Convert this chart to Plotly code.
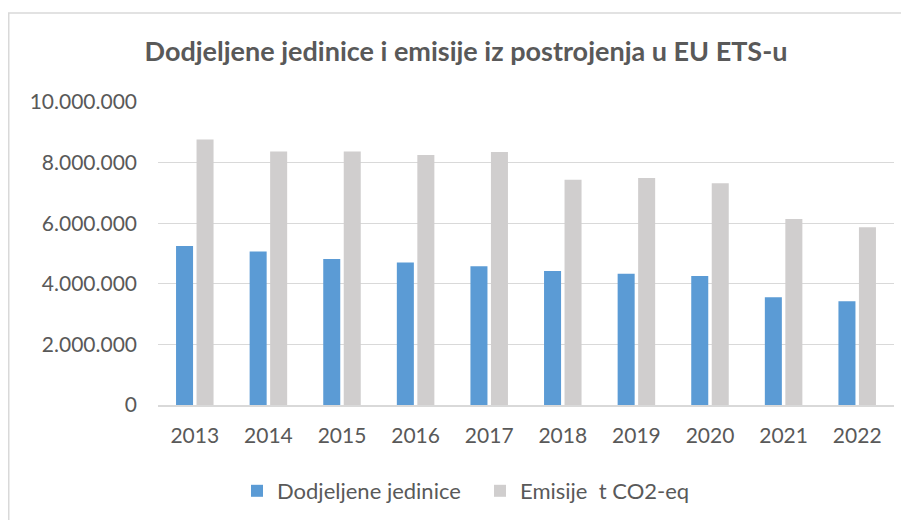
import plotly.graph_objects as go

years = ["2013", "2014", "2015", "2016", "2017", "2018", "2019", "2020", "2021", "2022"]
dodjeljene = [5250000, 5070000, 4820000, 4700000, 4580000, 4420000, 4330000, 4260000, 3560000, 3420000]
emisije = [8760000, 8370000, 8370000, 8250000, 8350000, 7430000, 7490000, 7320000, 6140000, 5870000]
y_tickvals = [0, 2000000, 4000000, 6000000, 8000000, 10000000]
y_ticktext = ["0", "2.000.000", "4.000.000", "6.000.000", "8.000.000", "10.000.000"]

FONT = "Lato"
TXT = "#595959"

fig = go.Figure()
fig.add_trace(go.Bar(x=years, y=dodjeljene, name="Dodjeljene jedinice",
                     marker=dict(color="#5B9BD5", line=dict(width=0))))
fig.add_trace(go.Bar(x=years, y=emisije, name="Emisije  t CO2-eq",
                     marker=dict(color="#D0CECE", line=dict(width=0))))

# figure sits at an 8px page offset (body margin)
OFF = 8
W, H = 901, 512
L, R, T, B = 150, 15, 94, 115
pw, ph = W - L - R, H - T - B

def px(x):
    return (x - OFF - L) / pw

def py(y):
    return (H - B - (y - OFF)) / ph

fig.update_layout(
    width=W, height=H,
    margin=dict(l=L, r=R, t=T, b=B, autoexpand=False),
    paper_bgcolor="white", plot_bgcolor="white",
    barmode="group", bargap=0.443, bargroupgap=0.17,
    font=dict(family=FONT, color=TXT, size=21),
    title=dict(text="<b>Dodjeljene jedinice i emisije iz postrojenja u EU ETS-u</b>",
               x=(466 - OFF) / W, xanchor="center", y=1 - (51.5 - OFF) / H, yanchor="middle",
               font=dict(family=FONT, size=27, color=TXT)),
    showlegend=True,
    legend=dict(orientation="h", x=px(237), xanchor="left", y=py(491), yanchor="middle",
                font=dict(family=FONT, size=22, color=TXT), itemwidth=30,
                entrywidth=198, entrywidthmode="pixels",
                traceorder="normal", bgcolor="rgba(0,0,0,0)"),
    xaxis=dict(showgrid=False, showline=True, linecolor="#D9D9D9", linewidth=1.5,
               ticks="", tickfont=dict(size=21, color=TXT), ticklabelstandoff=11),
    yaxis=dict(range=[0, 10000000], tickvals=y_tickvals, ticktext=y_ticktext,
               showgrid=True, gridcolor="#D9D9D9", gridwidth=1.3, zeroline=False,
               showline=False, ticks="", tickfont=dict(size=21, color=TXT),
               ticklabelstandoff=20),
    shapes=[dict(type="rect", xref="paper", yref="paper",
                 x0=px(8.75), x1=px(W + 40), y0=py(H + 40), y1=py(13),
                 line=dict(color="#D9D9D9", width=1.5), fillcolor="rgba(0,0,0,0)",
                 layer="below")],
)

fig.write_html("out.html")
